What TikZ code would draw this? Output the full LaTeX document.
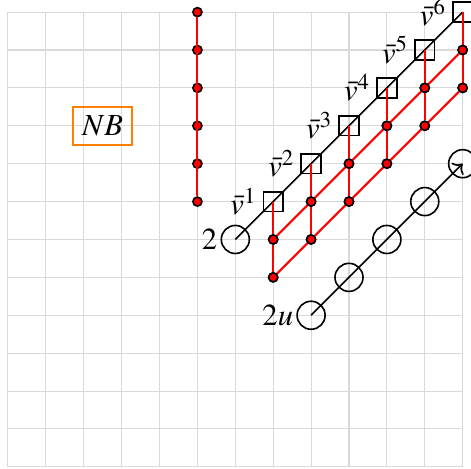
\documentclass[tikz,border=0pt]{standalone}
\usepackage{mathptmx}
\usetikzlibrary{arrows.meta}
\definecolor{nborange}{HTML}{FF8000}

\begin{document}
\begin{tikzpicture}[
    x=0.5cm, y=0.5cm, >={To[length=3pt]},
    font=\fontsize{11.5pt}{13pt}\selectfont,
    vsq/.style={draw, semithick, inner sep=0pt, minimum size=0.26cm},
    ring/.style={draw, semithick, circle, inner sep=0pt, minimum size=0.37cm},
    rdot/.style={circle, draw=black, semithick, fill=red, inner sep=0pt, minimum size=3.4pt},
    redline/.style={red, line width=0.8pt},
    chain/.style={black, semithick}]

  \useasboundingbox (-0.21,-0.05) rectangle (12.22,12.32);

  % grid
  \draw[gray!30, step=1] (0,0) grid (12,12);

  % the NB box
  \node[draw=nborange, line width=0.8pt, minimum width=0.78cm, minimum height=0.49cm]
       (nb) at (2.5,9) {$NB$};

  % the column of dots
  \foreach \j in {7,...,12}
    \node[rdot] (c\j) at (5,\j) {};
  \draw[redline] (c7) -- (c12);

  % the chain from 2 with the squares
  \node[ring, label={[inner sep=1pt]left:$2$}] (two) at (6,6) {};
  \foreach \k in {1,...,6}
    \node[vsq, label={[inner sep=2pt]left:$\bar{v}^{\k}$}] (v\k) at (6+\k,6+\k) {};
  \draw[chain] (two.center) -- (v6.center);

  % two red diagonals below the squares
  \foreach \k in {1,...,6} {
    \node[rdot] (a\k) at (6+\k,5+\k) {};
    \node[rdot] (b\k) at (6+\k,4+\k) {};
  }
  \draw[redline] (a1) -- (a6);
  \draw[redline] (b1) -- (b6);
  \foreach \k in {1,...,6}
    \draw[redline] (v\k.center) -- (a\k) -- (b\k);
  \foreach \k in {1,...,6} {
    \node[rdot] at (a\k) {};
    \node[rdot] at (b\k) {};
  }

  % the chain from 2u
  \node[ring, label={[inner sep=1pt]left:$2u$}] (u0) at (8,4) {};
  \foreach \k in {1,...,4}
    \node[ring] (u\k) at (8+\k,4+\k) {};
  \draw[chain, ->] (u0.center) -- (u4.center);
\end{tikzpicture}
\end{document}
